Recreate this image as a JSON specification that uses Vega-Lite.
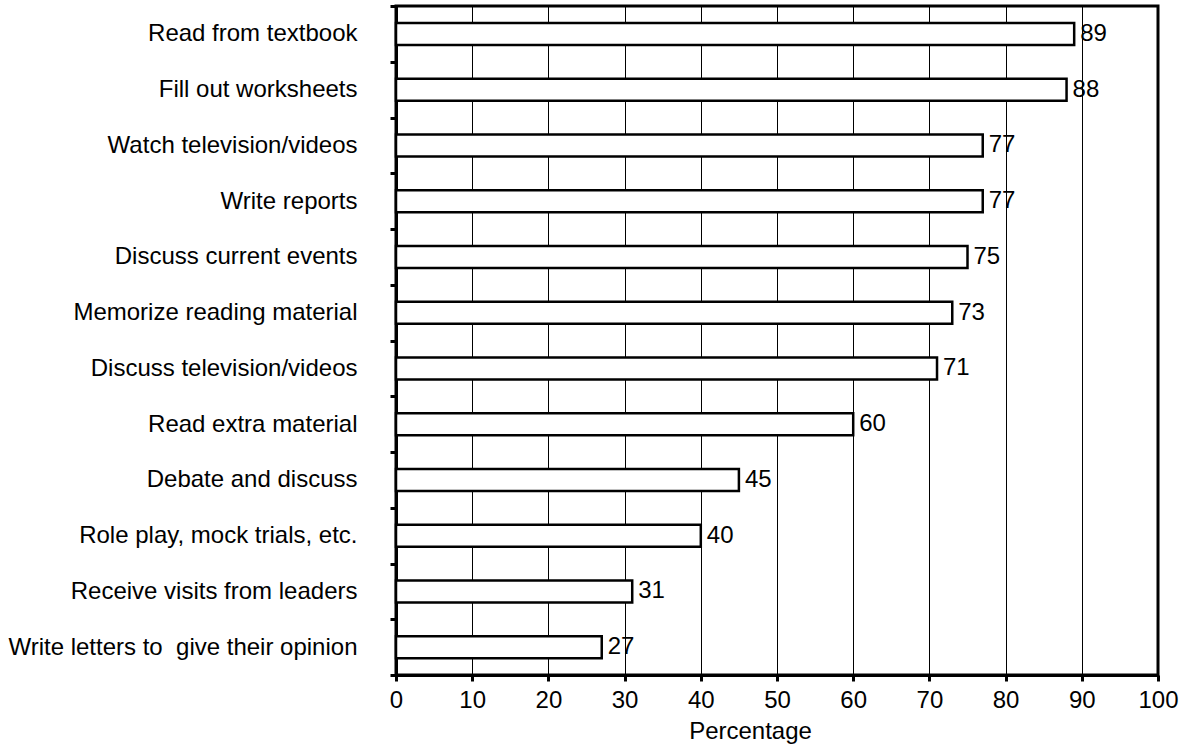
{
  "$schema": "https://vega.github.io/schema/vega-lite/v6.json",
  "autosize": "none",
  "width": 762,
  "height": 669,
  "padding": {"left": 396, "top": 6, "right": 29, "bottom": 74},
  "background": "white",
  "config": {
    "font": "Liberation Sans",
    "view": {"stroke": "black", "strokeWidth": 3},
    "axis": {"labelColor": "black", "titleColor": "black", "domainColor": "black", "tickColor": "black"}
  },
  "data": {
    "values": [
      {"activity": "Read from textbook", "pct": 89},
      {"activity": "Fill out worksheets", "pct": 88},
      {"activity": "Watch television/videos", "pct": 77},
      {"activity": "Write reports", "pct": 77},
      {"activity": "Discuss current events", "pct": 75},
      {"activity": "Memorize reading material", "pct": 73},
      {"activity": "Discuss television/videos", "pct": 71},
      {"activity": "Read extra material", "pct": 60},
      {"activity": "Debate and discuss", "pct": 45},
      {"activity": "Role play, mock trials, etc.", "pct": 40},
      {"activity": "Receive visits from leaders", "pct": 31},
      {"activity": "Write letters to \u00a0give their opinion", "pct": 27}
    ]
  },
  "encoding": {
    "y": {
      "field": "activity",
      "type": "nominal",
      "sort": null,
      "scale": {"paddingInner": 0, "paddingOuter": 0},
      "axis": {
        "title": null,
        "tickBand": "extent",
        "tickSize": 6,
        "tickWidth": 3,
        "domainWidth": 3,
        "labelFontSize": 24,
        "labelPadding": 33,
        "labelLimit": 500,
        "grid": false
      }
    },
    "x": {
      "field": "pct",
      "type": "quantitative",
      "scale": {"domain": [0, 100], "nice": false},
      "axis": {
        "title": "Percentage",
        "values": [0, 10, 20, 30, 40, 50, 60, 70, 80, 90, 100],
        "grid": true,
        "gridColor": "black",
        "gridWidth": 1,
        "gridOpacity": 1,
        "tickSize": 6,
        "tickWidth": 3,
        "domainWidth": 3,
        "labelFontSize": 24,
        "labelPadding": 7,
        "labelFlush": false,
        "titleFontSize": 24,
        "titleFontWeight": "normal",
        "titleX": 354,
        "titleY": 44,
        "titleBaseline": "top"
      }
    }
  },
  "layer": [
    {
      "mark": {"type": "bar", "fill": "white", "stroke": "black", "strokeWidth": 2.5, "size": 22}
    },
    {
      "mark": {"type": "text", "align": "left", "baseline": "middle", "dx": 6, "fontSize": 24, "color": "black"},
      "encoding": {"text": {"field": "pct", "type": "quantitative"}}
    }
  ]
}
